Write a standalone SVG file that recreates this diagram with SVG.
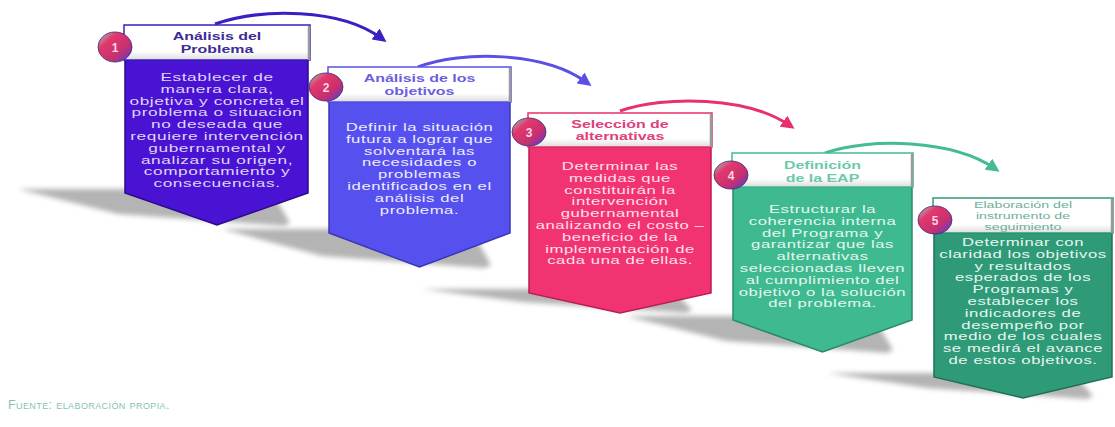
<svg xmlns="http://www.w3.org/2000/svg" width="1115" height="427" viewBox="0 0 1115 427">
<defs>
<style>
.body{font-family:"Liberation Sans",Arial,sans-serif;font-size:11.5px;text-anchor:middle;letter-spacing:0.4px}
.head{font-family:"Liberation Sans",Arial,sans-serif;font-size:11px;font-weight:bold;text-anchor:middle}
.head5{font-family:"Liberation Sans",Arial,sans-serif;font-size:9.5px;text-anchor:middle}
.num{font-family:"Liberation Sans",Arial,sans-serif;font-size:12px;font-weight:bold;text-anchor:middle;fill:#ffd6e4}
.hbox{fill:url(#hg);stroke-width:1.5}
.edge{stroke:#9a9a9a;stroke-width:2.5}
.shadow{fill:#b4b4b4;filter:url(#blur)}
.conn{fill:none;stroke-width:3}
.ball{fill:url(#bg);stroke:#3a2a70;stroke-width:0.8}
</style>
<linearGradient id="hg" x1="0" y1="0" x2="0" y2="1">
<stop offset="0" stop-color="#ffffff"/><stop offset="0.75" stop-color="#ffffff"/><stop offset="1" stop-color="#dcdcdc"/>
</linearGradient>
<linearGradient id="bg" x1="0" y1="0" x2="1" y2="1">
<stop offset="0" stop-color="#8fe0c8"/><stop offset="0.3" stop-color="#e2386c"/><stop offset="0.65" stop-color="#c8306e"/><stop offset="1" stop-color="#4a3ce0"/>
</linearGradient>
<filter id="blur" x="-20%" y="-50%" width="140%" height="200%"><feGaussianBlur stdDeviation="2.5"/></filter>
<marker id="m1" viewBox="0 0 10 10" refX="5" refY="5" markerWidth="4.5" markerHeight="4.5" orient="auto" markerUnits="strokeWidth"><path d="M0,0 L10,5 L0,10 z" fill="#3b1ec4"/></marker>
<marker id="m2" viewBox="0 0 10 10" refX="5" refY="5" markerWidth="4.5" markerHeight="4.5" orient="auto" markerUnits="strokeWidth"><path d="M0,0 L10,5 L0,10 z" fill="#5a50e6"/></marker>
<marker id="m3" viewBox="0 0 10 10" refX="5" refY="5" markerWidth="4.5" markerHeight="4.5" orient="auto" markerUnits="strokeWidth"><path d="M0,0 L10,5 L0,10 z" fill="#e8306a"/></marker>
<marker id="m4" viewBox="0 0 10 10" refX="5" refY="5" markerWidth="4.5" markerHeight="4.5" orient="auto" markerUnits="strokeWidth"><path d="M0,0 L10,5 L0,10 z" fill="#45bb92"/></marker>
</defs>
<rect width="1115" height="427" fill="#ffffff"/>

<g id="shadows">
<polygon class="shadow" points="18,189 270,189 290,223 284,226 118,214"/>
<polygon class="shadow" points="222,229 471,229 491,265 485,268 322,256"/>
<polygon class="shadow" points="422,289 672,289 692,310 686,313 522,302"/>
<polygon class="shadow" points="626,316 873,316 893,350 887,353 726,341"/>
<polygon class="shadow" points="827,373 1073,373 1093,396 1087,399 927,388"/>
</g>

<g id="connectors">
<path class="conn" stroke="#3b1ec4" d="M215,24 C262,8 340,8 381,38" marker-end="url(#m1)"/>
<path class="conn" stroke="#5a50e6" d="M418,67 C462,50 545,52 586,82" marker-end="url(#m2)"/>
<path class="conn" stroke="#e8306a" d="M620,111 C665,95 748,97 789,125" marker-end="url(#m3)"/>
<path class="conn" stroke="#45bb92" d="M825,153 C870,137 953,140 994,168" marker-end="url(#m4)"/>
</g>

<g id="node1">
<path d="M125,60 H308 V193 L217,225 L125,193 Z" fill="#4a12d2" stroke="#2b0a8a" stroke-width="1.5"/>
<rect class="hbox" x="124" y="25" width="186" height="35" stroke="#3b1ec4"/>
<line class="edge" x1="309" y1="26" x2="309" y2="60"/>
<g class="head" fill="#3d2a95" transform="translate(217,0) scale(1.45,1)">
<text x="0" y="40">Análisis del</text><text x="0" y="53">Problema</text>
</g>
<g class="body" fill="#ddd7f7" transform="translate(217,0) scale(1.5,1)">
<text x="0" y="81">Establecer de</text>
<text x="0" y="92.8">manera clara,</text>
<text x="0" y="104.6">objetiva y concreta el</text>
<text x="0" y="116.4">problema o situación</text>
<text x="0" y="128.2">no deseada que</text>
<text x="0" y="140">requiere intervención</text>
<text x="0" y="151.8">gubernamental y</text>
<text x="0" y="163.6">analizar su origen,</text>
<text x="0" y="175.4">comportamiento y</text>
<text x="0" y="187.2">consecuencias.</text>
</g>
<ellipse class="ball" cx="115" cy="47" rx="17" ry="15"/>
<text class="num" x="115" y="52">1</text>
</g>

<g id="node2">
<path d="M329,102 H510 V233 L419.5,267 L329,233 Z" fill="#5650ee" stroke="#3b36b8" stroke-width="1.5"/>
<rect class="hbox" x="328" y="67" width="183" height="35" stroke="#5a50e6"/>
<line class="edge" x1="510" y1="68" x2="510" y2="102"/>
<g class="head" fill="#6a5ee2" transform="translate(419.5,0) scale(1.45,1)">
<text x="0" y="82">Análisis de los</text><text x="0" y="95">objetivos</text>
</g>
<g class="body" fill="#eeedff" transform="translate(419.5,0) scale(1.45,1)">
<text x="0" y="131">Definir la situación</text>
<text x="0" y="142.8">futura a lograr que</text>
<text x="0" y="154.6">solventará las</text>
<text x="0" y="166.4">necesidades o</text>
<text x="0" y="178.2">problemas</text>
<text x="0" y="190">identificados en el</text>
<text x="0" y="201.8">análisis del</text>
<text x="0" y="213.6">problema.</text>
</g>
<ellipse class="ball" cx="326" cy="87" rx="17" ry="14"/>
<text class="num" x="326" y="92">2</text>
</g>

<g id="node3">
<path d="M529,147 H711 V293 L620,313 L529,293 Z" fill="#f23372" stroke="#b81e50" stroke-width="1.5"/>
<rect class="hbox" x="528" y="113" width="184" height="34" stroke="#e8306a"/>
<line class="edge" x1="711" y1="114" x2="711" y2="147"/>
<g class="head" fill="#e0407a" transform="translate(620,0) scale(1.45,1)">
<text x="0" y="128">Selección de</text><text x="0" y="140.5">alternativas</text>
</g>
<g class="body" fill="#ffe0ea" transform="translate(620,0) scale(1.45,1)">
<text x="0" y="170">Determinar las</text>
<text x="0" y="181.8">medidas que</text>
<text x="0" y="193.6">constituirán la</text>
<text x="0" y="205.4">intervención</text>
<text x="0" y="217.2">gubernamental</text>
<text x="0" y="229">analizando el costo –</text>
<text x="0" y="240.8">beneficio de la</text>
<text x="0" y="252.6">implementación de</text>
<text x="0" y="264.4">cada una de ellas.</text>
</g>
<ellipse class="ball" cx="529" cy="132" rx="17" ry="14"/>
<text class="num" x="529" y="137">3</text>
</g>

<g id="node4">
<path d="M733,187 H912 V320 L822.5,352 L733,320 Z" fill="#3fba90" stroke="#2a8a68" stroke-width="1.5"/>
<rect class="hbox" x="732" y="153" width="181" height="34" stroke="#45bb92"/>
<line class="edge" x1="912" y1="154" x2="912" y2="187"/>
<g class="head" fill="#6ccaa8" transform="translate(822.5,0) scale(1.45,1)">
<text x="0" y="169">Definición</text><text x="0" y="182">de la EAP</text>
</g>
<g class="body" fill="#e4f7ef" transform="translate(822.5,0) scale(1.45,1)">
<text x="0" y="213">Estructurar la</text>
<text x="0" y="224.8">coherencia interna</text>
<text x="0" y="236.6">del Programa y</text>
<text x="0" y="248.4">garantizar que las</text>
<text x="0" y="260.2">alternativas</text>
<text x="0" y="272">seleccionadas lleven</text>
<text x="0" y="283.8">al cumplimiento del</text>
<text x="0" y="295.6">objetivo o la solución</text>
<text x="0" y="307.4">del problema.</text>
</g>
<ellipse class="ball" cx="731" cy="175" rx="17" ry="14"/>
<text class="num" x="731" y="180">4</text>
</g>

<g id="node5">
<path d="M934,233 H1112 V377 L1023,398 L934,377 Z" fill="#2f9a78" stroke="#1f7058" stroke-width="1.5"/>
<rect class="hbox" x="933" y="198" width="180" height="35" stroke="#2f9a78"/>
<line class="edge" x1="1112" y1="199" x2="1112" y2="233"/>
<g class="head5" fill="#6fae9a" transform="translate(1023,0) scale(1.5,1)">
<text x="0" y="208">Elaboración del</text><text x="0" y="219.5">instrumento de</text><text x="0" y="230.5">seguimiento</text>
</g>
<g class="body" fill="#e8f6f0" transform="translate(1023,0) scale(1.45,1)">
<text x="0" y="246">Determinar con</text>
<text x="0" y="257.8">claridad los objetivos</text>
<text x="0" y="269.6">y resultados</text>
<text x="0" y="281.4">esperados de los</text>
<text x="0" y="293.2">Programas y</text>
<text x="0" y="305">establecer los</text>
<text x="0" y="316.8">indicadores de</text>
<text x="0" y="328.6">desempeño por</text>
<text x="0" y="340.4">medio de los cuales</text>
<text x="0" y="352.2">se medirá el avance</text>
<text x="0" y="364">de estos objetivos.</text>
</g>
<ellipse class="ball" cx="935" cy="220" rx="17" ry="14"/>
<text class="num" x="935" y="225">5</text>
</g>

<text x="8" y="409" font-family="Liberation Sans, Arial, sans-serif" font-size="12.5" font-variant="small-caps" letter-spacing="0.4" fill="#86c2b6">Fuente: elaboración propia.</text>
</svg>
